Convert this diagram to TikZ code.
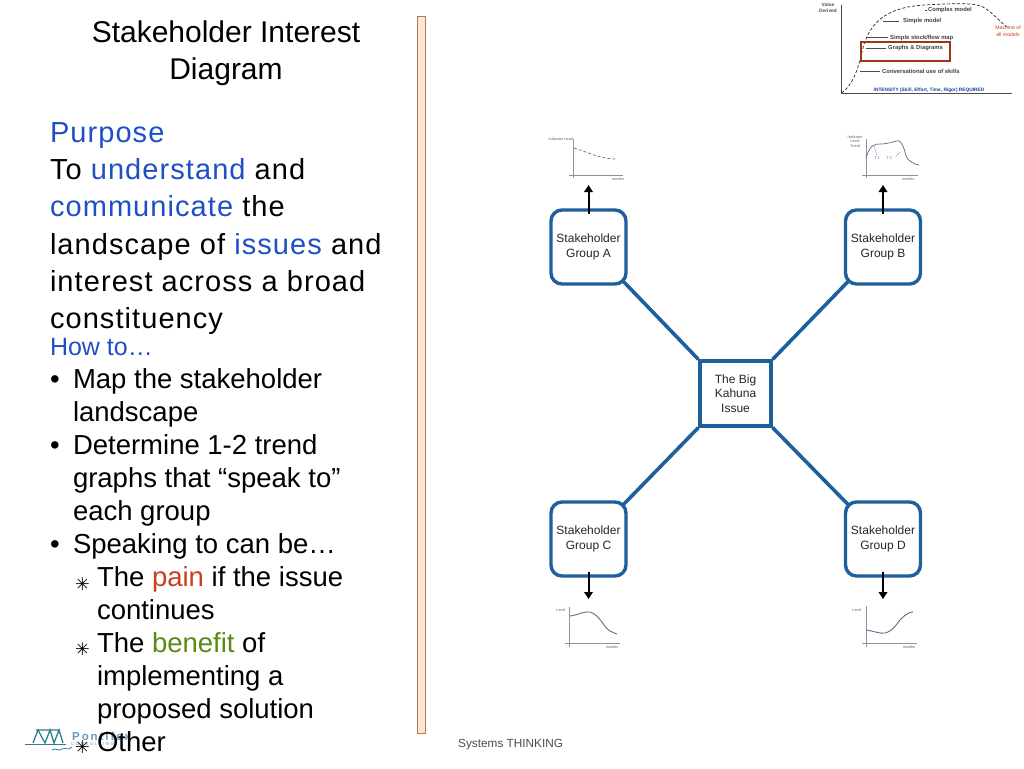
\documentclass[tikz,border=0pt]{standalone}
\usepackage{fontspec}
\setmainfont{Liberation Sans}
\newfontfamily\symf{DejaVu Sans}
\newfontfamily\spaced[LetterSpace=3.7]{Liberation Sans}
\usetikzlibrary{arrows.meta}
\definecolor{bluetxt}{HTML}{1F4FC4}
\definecolor{paintxt}{HTML}{C8401A}
\definecolor{bentxt}{HTML}{5A8A14}
\definecolor{boxblue}{HTML}{1F5F9E}
\definecolor{barfill}{HTML}{FBE5D8}
\definecolor{bardraw}{HTML}{B87840}
\definecolor{chartgray}{HTML}{8A93A0}
\definecolor{curvegray}{HTML}{5F6F85}
\definecolor{logoteal}{HTML}{2F8090}
\definecolor{logotext}{HTML}{6C98B8}
\definecolor{framered}{HTML}{A03418}
\tikzset{x=1pt,y=-1pt,
 line/.style={anchor=base west,inner sep=0,outer sep=0,font=\spaced\fontsize{29}{29}\selectfont},
 bodyline/.style={anchor=base west,inner sep=0,outer sep=0,font=\fontsize{27.5}{27.5}\selectfont},
 starline/.style={anchor=base west,inner sep=0,outer sep=0,font=\symf\fontsize{17.5}{17.5}\selectfont},
 titleline/.style={anchor=base,inner sep=0,outer sep=0,font=\fontsize{30}{30}\selectfont},
 boxtxt/.style={align=center,font=\fontsize{12}{14.4}\selectfont,text=black!85},
 group/.style={boxtxt,draw=boxblue,line width=3.4pt,rounded corners=11pt,minimum width=75pt,minimum height=74pt,inner sep=0},
 hub/.style={boxtxt,draw=boxblue,line width=3.4pt,minimum width=71pt,minimum height=65pt,inner sep=0},
 link/.style={draw=boxblue,line width=3.6pt},
 feed/.style={draw=black,line width=2pt,-{Triangle[length=7pt,width=8.5pt]}},
 axis/.style={draw=chartgray,line width=.8pt},
 curve/.style={draw=curvegray,line width=.7pt},
 tiny/.style={inner sep=0,align=center,font=\fontsize{3.8}{4.4}\selectfont,text=black!60},
 model/.style={inner sep=0,anchor=west,font=\bfseries\fontsize{5.85}{6}\selectfont,text=black!75}}
\begin{document}
\begin{tikzpicture}
\useasboundingbox (0,0) rectangle (1024,768);
\fill[white] (0,0) rectangle (1024,768);
% title
\node[titleline] (t1) at (226,42) {Stakeholder Interest};
\node[titleline] (t2) at (226,79) {Diagram};
% logo (under the text)
\draw[logoteal,line width=.9pt] (25,744) -- (66,744);
\draw[logoteal,line width=1.3pt] (33,743) -- (38,730) -- (45,743) -- (50,730) -- (54,743) -- (59,730) -- (63,743) (36,730) -- (60,730);
\draw[logoteal,line width=.8pt] (52,750) .. controls (56,747) and (58,752) .. (62,749) .. controls (66,747) and (68,751) .. (72,747);
\node[inner sep=0,anchor=west,text=logotext,font=\bfseries\fontsize{11.5}{11.5}\selectfont] (logo1) at (72,736) {P\,o\,n\,t\,i\,f\,e\,x};
\node[inner sep=0,anchor=west,text=logotext,font=\fontsize{4.5}{5}\selectfont] (logo2) at (71,743.5) {C\,\,O\,\,N\,\,S\,\,U\,\,L\,\,T\,\,I\,\,N\,\,G};
% purpose
\node[line,text=bluetxt] (p1) at (50,142) {Purpose};
\node[line] (p2) at (50,179) {To \textcolor{bluetxt}{understand} and};
\node[line,text=bluetxt] (p3) at (50,216) {communicate \textcolor{black}{the}};
\node[line] (p4) at (50,254) {landscape of \textcolor{bluetxt}{issues} and};
\node[line] (p5) at (50,291) {interest across a broad};
\node[line] (p6) at (50,328) {constituency};
% how to
\node[bodyline,text=bluetxt,font=\fontsize{25}{25}\selectfont] (h0) at (50,355) {How to…};
\node[bodyline] (b1) at (50,388) {•};
\node[bodyline] (h1) at (73,388) {Map the stakeholder};
\node[bodyline] (h2) at (73,421) {landscape};
\node[bodyline] (b2) at (50,454) {•};
\node[bodyline] (h3) at (73,454) {Determine 1-2 trend};
\node[bodyline] (h4) at (73,487) {graphs that “speak to”};
\node[bodyline] (h5) at (73,520) {each group};
\node[bodyline] (b3) at (50,553) {•};
\node[bodyline] (h6) at (73,553) {Speaking to can be…};
\node[starline] (s1) at (75,590) {✳};
\node[bodyline] (h7) at (97,586) {The \textcolor{paintxt}{pain} if the issue};
\node[bodyline] (h8) at (97,619) {continues};
\node[starline] (s2) at (75,655) {✳};
\node[bodyline] (h9) at (97,652) {The \textcolor{bentxt}{benefit} of};
\node[bodyline] (h10) at (97,685) {implementing a};
\node[bodyline] (h11) at (97,718) {proposed solution};
\node[starline] (s3) at (75,753) {✳};
\node[bodyline] (h12) at (97,751) {Other};
% divider
\draw[draw=bardraw,fill=barfill,line width=1pt] (417.5,17) rectangle (425.5,733);
% footer
\node[anchor=base west,inner sep=0,font=\fontsize{11.8}{12}\selectfont,text=black!70] (foot) at (458,747) {Systems THINKING};
% diagram
\node[group] (A) at (588.5,247) {Stakeholder\\Group A};
\node[group] (B) at (883,247) {Stakeholder\\Group B};
\node[group] (C) at (588.5,539) {Stakeholder\\Group C};
\node[group] (D) at (883,539) {Stakeholder\\Group D};
\node[hub] (H) at (735.5,393.5) {The Big\\Kahuna\\Issue};
\draw[link] ([xshift=-6pt,yshift=6pt]A.south east) -- (H.north west);
\draw[link] ([xshift=6pt,yshift=6pt]B.south west) -- (H.north east);
\draw[link] ([xshift=-6pt,yshift=-6pt]C.north east) -- (H.south west);
\draw[link] ([xshift=6pt,yshift=-6pt]D.north west) -- (H.south east);
\coordinate (aa) at (588.5,185); \coordinate (ba) at (883,185);
\coordinate (ca) at (588.5,599); \coordinate (da) at (883,599);
\draw[feed] ([yshift=-6pt]A.north) -- (aa);
\draw[feed] ([yshift=-6pt]B.north) -- (ba);
\draw[feed] ([yshift=6pt]C.south) -- (ca);
\draw[feed] ([yshift=6pt]D.south) -- (da);
% trend graph A
\draw[axis] (573,139) -- (573,178) (569,175.5) -- (623,175.5);
\draw[curve,densely dashed] (574,148) .. controls (590,153) and (600,159) .. (617,159);
\node[tiny] (ga) at (561,139.5) {Indicator Level};
\node[tiny] (ga2) at (618,179) {months};
% trend graph B
\draw[axis] (866,139) -- (866,178) (862,175.5) -- (918,175.5);
\draw[curve] (866,158) .. controls (870,145) and (874,144) .. (880,144) .. controls (890,144) and (896,140) .. (899,141) .. controls (906,146) and (904,158) .. (910,161) .. controls (914,164) and (917,165) .. (919,165);
\draw[curve,densely dotted] (874,146) -- (877,155) (900,152) -- (895,157);
\node[tiny] (gb) at (855,141.5) {Indicator\\Level\\Trend};
\node[tiny] (gb3) at (877,158) {T 1};
\node[tiny] (gb4) at (889,158) {T 2};
\node[tiny] (gb2) at (908,179) {months};
% trend graph C
\draw[axis] (569,607) -- (569,647) (565,643.5) -- (620,643.5);
\draw[curve,line width=.9pt] (570,616) .. controls (578,615) and (584,611) .. (590,612) .. controls (600,615) and (604,628) .. (610,631) .. controls (613,633) and (615,633) .. (617,634);
\node[tiny] (gc) at (561,610) {Level};
\node[tiny] (gc2) at (612,647) {months};
% trend graph D
\draw[axis] (866,606) -- (866,647) (862,643.5) -- (917,643.5);
\draw[curve,line width=.9pt] (866,630) .. controls (874,631) and (880,634) .. (885,633) .. controls (894,631) and (898,621) .. (902,618) .. controls (906,614) and (910,612) .. (913,612);
\node[tiny] (gd) at (857,610) {Level};
\node[tiny] (gd2) at (909,647) {months};
% top right chart
\draw[draw=black!70,line width=.8pt] (841.5,5) -- (841.5,93) -- (1012,93);
\draw[draw=black!85,line width=.7pt,densely dashed] (841.5,93) .. controls (852,86) and (858,70) .. (862,52) .. controls (868,24) and (885,7) .. (925,5) .. controls (960,3) and (975,3) .. (983,7) .. controls (992,12) and (1000,22) .. (1007,27);
\draw[draw=black!70,line width=.5pt] (925,10) -- (927,10) (883,21) -- (899,21) (866,37) -- (888,37) (866,48) -- (886,48) (860,71) -- (880,71);
\node[model] (m1) at (928,9.5) {Complex model};
\node[model] (m2) at (903,21) {Simple model};
\node[model] (m3) at (890,37.5) {Simple stock/flow map};
\node[model] (m4) at (888,48.5) {Graphs \& Diagrams};
\node[model] (m5) at (882,71.5) {Conversational use of skills};
\node[inner sep=0,font=\bfseries\fontsize{4.8}{5}\selectfont,text=bluetxt!80!black] (m6) at (929,90) {INTENSITY (Skill, Effort, Time, Rigor) REQUIRED};
\node[inner sep=0,align=center,font=\bfseries\fontsize{4.8}{6.5}\selectfont,text=black!70] (m7) at (828,8) {Value\\Derived};
\node[inner sep=0,align=center,font=\fontsize{5.2}{7}\selectfont,text=paintxt] (m8) at (1008,31) {Machine of\\all models};
\draw[draw=framered,line width=1.6pt] (861,42) rectangle (950,61);
\end{tikzpicture}
\end{document}
